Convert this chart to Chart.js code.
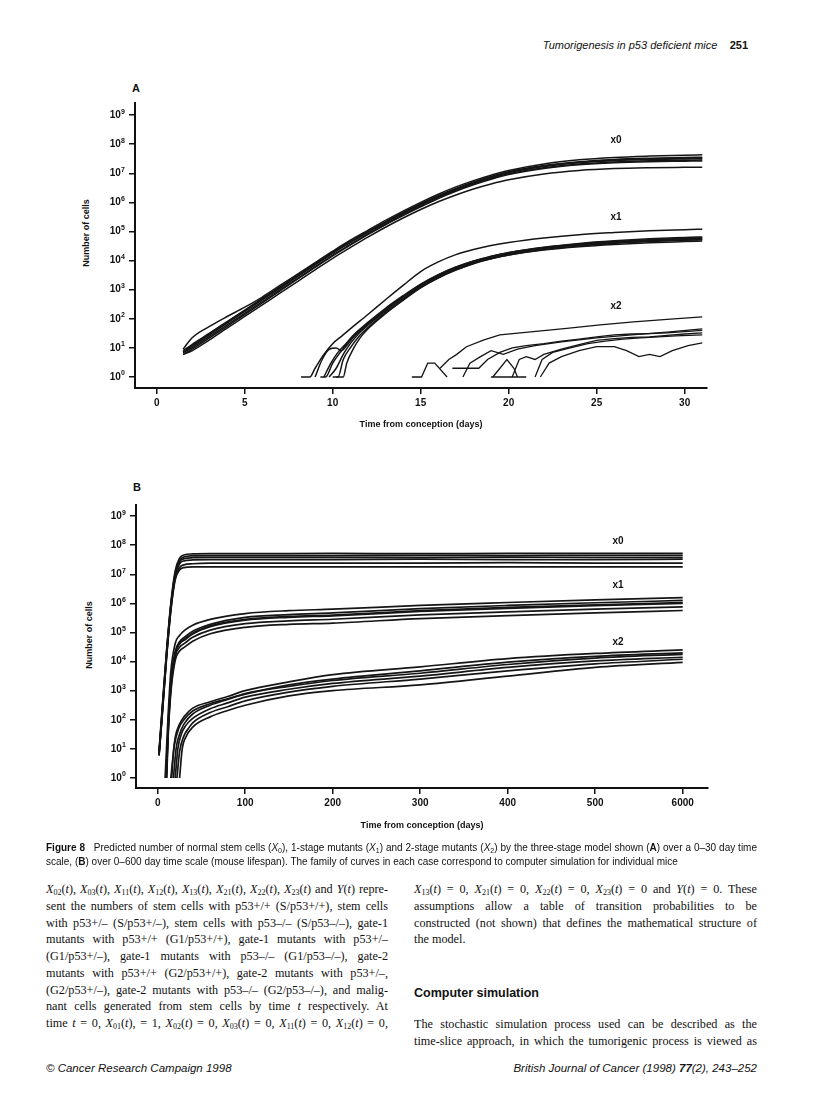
<!DOCTYPE html>
<html><head><meta charset="utf-8">
<script src="https://cdn.jsdelivr.net/npm/chart.js@4.4.1/dist/chart.umd.min.js"></script>
<style>
html,body{margin:0;padding:0;background:#fff;}
body{width:816px;height:1120px;position:relative;overflow:hidden;font-family:"Liberation Sans",Arial,sans-serif;color:#111;}
.abs{position:absolute;white-space:nowrap;}
canvas{position:absolute;left:0;}
.ytitle{position:absolute;font-weight:bold;font-size:9px;white-space:nowrap;transform:translate(-50%,-50%) rotate(-90deg);}
.panel{position:absolute;font-weight:bold;font-size:11px;transform:translate(-50%,-50%);}
.body{position:absolute;font-family:"Liberation Serif","Times New Roman",serif;font-size:12.2px;line-height:16px;height:16px;white-space:nowrap;text-align:justify;text-align-last:justify;}
.body.last{text-align:left;text-align-last:left;}
.body sub{font-size:8px;line-height:0;vertical-align:-2px;}
.cap{position:absolute;left:46px;width:711px;font-size:10px;line-height:12px;height:12px;white-space:nowrap;}
.cap sub{font-size:7px;line-height:0;vertical-align:-2px;}
</style>
</head><body>

<div class="abs" style="right:68px;top:38px;font-size:11px;line-height:14px;"><i>Tumorigenesis in p53 deficient mice</i>&nbsp;&nbsp;&nbsp;&nbsp;<b>251</b></div>

<div class="panel" style="left:136px;top:88px;">A</div>
<div class="ytitle" style="left:86px;top:233px;">Number of cells</div>
<canvas id="chartA" width="816" height="390" style="top:60px;"></canvas>

<div class="panel" style="left:137px;top:487px;">B</div>
<div class="ytitle" style="left:89px;top:635px;">Number of cells</div>
<canvas id="chartB" width="816" height="380" style="top:470px;"></canvas>

<div class="cap" style="top:842px;text-align:justify;text-align-last:justify;"><b>Figure 8</b>&nbsp;&nbsp; Predicted number of normal stem cells (<i>X</i><sub>0</sub>), 1-stage mutants (<i>X</i><sub>1</sub>) and 2-stage mutants (<i>X</i><sub>2</sub>) by the three-stage model shown (<b>A</b>) over a 0–30 day time</div>
<div class="cap" style="top:856px;">scale, (<b>B</b>) over 0–600 day time scale (mouse lifespan). The family of curves in each case correspond to computer simulation for individual mice</div>

<div class="body" style="left:46px;width:342px;top:881px;"><i>X</i><sub>02</sub>(<i>t</i>), <i>X</i><sub>03</sub>(<i>t</i>), <i>X</i><sub>11</sub>(<i>t</i>), <i>X</i><sub>12</sub>(<i>t</i>), <i>X</i><sub>13</sub>(<i>t</i>), <i>X</i><sub>21</sub>(<i>t</i>), <i>X</i><sub>22</sub>(<i>t</i>), <i>X</i><sub>23</sub>(<i>t</i>) and <i>Y</i>(<i>t</i>) repre-</div>
<div class="body" style="left:46px;width:342px;top:897.75px;">sent the numbers of stem cells with p53+/+ (S/p53+/+), stem cells</div>
<div class="body" style="left:46px;width:342px;top:914.5px;">with p53+/– (S/p53+/–), stem cells with p53–/– (S/p53–/–), gate-1</div>
<div class="body" style="left:46px;width:342px;top:931.25px;">mutants with p53+/+ (G1/p53+/+), gate-1 mutants with p53+/–</div>
<div class="body" style="left:46px;width:342px;top:948px;">(G1/p53+/–), gate-1 mutants with p53–/– (G1/p53–/–), gate-2</div>
<div class="body" style="left:46px;width:342px;top:964.75px;">mutants with p53+/+ (G2/p53+/+), gate-2 mutants with p53+/–,</div>
<div class="body" style="left:46px;width:342px;top:981.5px;">(G2/p53+/–), gate-2 mutants with p53–/– (G2/p53–/–), and malig-</div>
<div class="body" style="left:46px;width:342px;top:998.25px;">nant cells generated from stem cells by time <i>t</i> respectively. At</div>
<div class="body" style="left:46px;width:342px;top:1015px;">time <i>t</i> = 0, <i>X</i><sub>01</sub>(<i>t</i>), = 1, <i>X</i><sub>02</sub>(<i>t</i>) = 0, <i>X</i><sub>03</sub>(<i>t</i>) = 0, <i>X</i><sub>11</sub>(<i>t</i>) = 0, <i>X</i><sub>12</sub>(<i>t</i>) = 0,</div>

<div class="body" style="left:414px;width:343px;top:881px;"><i>X</i><sub>13</sub>(<i>t</i>) = 0, <i>X</i><sub>21</sub>(<i>t</i>) = 0, <i>X</i><sub>22</sub>(<i>t</i>) = 0, <i>X</i><sub>23</sub>(<i>t</i>) = 0 and <i>Y</i>(<i>t</i>) = 0. These</div>
<div class="body" style="left:414px;width:343px;top:897.75px;">assumptions allow a table of transition probabilities to be</div>
<div class="body" style="left:414px;width:343px;top:914.5px;">constructed (not shown) that defines the mathematical structure of</div>
<div class="body last" style="left:414px;width:343px;top:931.25px;">the model.</div>
<div class="abs" style="left:414px;top:985px;font-weight:bold;font-size:12.5px;line-height:16px;">Computer simulation</div>
<div class="body" style="left:414px;width:343px;top:1016px;">The stochastic simulation process used can be described as the</div>
<div class="body" style="left:414px;width:343px;top:1033px;">time-slice approach, in which the tumorigenic process is viewed as</div>

<div class="abs" style="left:46px;top:1061px;font-size:11.5px;line-height:15px;"><i>© Cancer Research Campaign 1998</i></div>
<div class="abs" style="right:59px;top:1061px;font-size:11.5px;line-height:15px;"><i>British Journal of Cancer (1998) <b>77</b>(2), 243–252</i></div>

<script>
// ---------- shared axis ticks ----------
const yTickValues = [1, 10, 100, 1e3, 1e4, 1e5, 1e6, 1e7, 1e8, 1e9];
const yTickBase = '10';
const yTickExponents = ['0','1','2','3','4','5','6','7','8','9'];
const aTickValues = [0, 5, 10, 15, 20, 25, 30];
const aTickLabels = ['0','5','10','15','20','25','30'];
const bTickValues = [0, 100, 200, 300, 400, 500, 600];
const bTickLabels = ['0','100','200','300','400','500','6000'];

// ---------- Panel A: x0 (normal stem cells), 0-31 days ----------
const aX0Days = [1.5, 2, 3, 4, 5, 6, 7, 8, 9, 10, 11, 12, 13, 14, 15, 16, 17, 18, 19, 20, 22, 24, 26, 28, 30, 31];
const aX0Run1 = [9, 22, 55, 120, 250, 560, 1400, 3400, 8500, 21000, 50000, 110000, 240000, 500000, 1.0e6, 1.9e6, 3.4e6, 5.6e6, 8.6e6, 1.25e7, 2.1e7, 2.9e7, 3.5e7, 3.9e7, 4.2e7, 4.3e7];
const aX0Run2 = [7, 11, 28, 71, 178, 447, 1120, 2800, 7100, 17800, 41700, 93000, 200000, 417000, 832000, 1.59e6, 2.82e6, 4.7e6, 7.2e6, 1.05e7, 1.7e7, 2.3e7, 2.7e7, 2.95e7, 3.1e7, 3.15e7];
const aX0Run3 = [6, 9, 22, 55, 140, 350, 900, 2300, 5800, 14500, 34000, 78000, 170000, 350000, 700000, 1.35e6, 2.4e6, 4.0e6, 6.2e6, 9.0e6, 1.45e7, 1.95e7, 2.3e7, 2.5e7, 2.6e7, 2.65e7];
const aX0Run4 = [8, 13, 32, 80, 200, 500, 1250, 3100, 7800, 19500, 45000, 100000, 215000, 450000, 900000, 1.7e6, 3.0e6, 5.0e6, 7.8e6, 1.13e7, 1.85e7, 2.5e7, 3.0e7, 3.3e7, 3.5e7, 3.55e7];
const aX0Run5 = [6, 8, 19, 48, 120, 300, 760, 1900, 4800, 12000, 28000, 64000, 140000, 290000, 570000, 1.05e6, 1.8e6, 2.9e6, 4.3e6, 6.0e6, 9.5e6, 1.25e7, 1.45e7, 1.55e7, 1.6e7, 1.62e7];
const aX0Run6 = [7, 12, 30, 75, 190, 470, 1180, 2950, 7400, 18500, 43000, 96000, 205000, 430000, 860000, 1.63e6, 2.9e6, 4.8e6, 7.4e6, 1.08e7, 1.78e7, 2.4e7, 2.85e7, 3.15e7, 3.3e7, 3.35e7];
const aX0Run7 = [7, 10, 25, 62, 155, 390, 980, 2450, 6200, 15500, 36000, 83000, 180000, 375000, 750000, 1.45e6, 2.6e6, 4.3e6, 6.6e6, 9.6e6, 1.55e7, 2.1e7, 2.45e7, 2.7e7, 2.8e7, 2.85e7];

// ---------- Panel A: x1 (1-stage mutants) [day, cells] ----------
const aX1Run1 = [[8.2,1],[8.7,1],[9,2],[9.5,6],[10,14],[10.5,25],[11,45],[12,140],[13,450],[14,1400],[15,4200],[16,9000],[17,16000],[18,24000],[19,33000],[20,42000],[22,60000],[24,78000],[26,92000],[28,105000],[30,115000],[31,120000]];
const aX1Run2 = [[9.3,1],[9.6,1],[10,3],[10.5,8],[11,20],[11.5,40],[12,70],[13,200],[14,550],[15,1400],[16,3000],[17,5500],[18,9000],[19,13000],[20,17500],[22,26000],[24,34000],[26,41000],[28,47000],[30,52000],[31,54000]];
const aX1Run3 = [[9.8,1],[10.2,2],[10.6,6],[11,14],[11.5,32],[12,60],[13,180],[14,500],[15,1300],[16,2800],[17,5200],[18,8500],[19,12500],[20,17000],[22,26000],[24,35000],[26,43000],[28,50000],[30,56000],[31,58000]];
const aX1Run4 = [[10,1],[10.3,1],[10.6,4],[11,10],[11.5,25],[12,50],[13,160],[14,450],[15,1200],[16,2600],[17,4800],[18,8000],[19,11500],[20,15500],[22,23000],[24,30000],[26,36000],[28,41000],[30,45000],[31,47000]];
const aX1Run5 = [[9.5,1],[9.9,3],[10.3,7],[10.8,15],[11.2,28],[12,75],[13,230],[14,620],[15,1550],[16,3300],[17,6000],[18,9800],[19,14000],[20,19000],[22,29000],[24,39000],[26,48000],[28,56000],[30,62000],[31,65000]];
const aX1Run6 = [[10.2,1],[10.6,1],[10.8,3],[11.2,10],[11.6,24],[12,45],[13,150],[14,430],[15,1150],[16,2500],[17,4700],[18,7800],[19,11500],[20,15500],[22,24000],[24,32000],[26,39000],[28,45000],[30,50000],[31,52000]];
const aX1Run7 = [[9,1],[9.4,4],[9.8,9],[10.2,10],[10.5,8],[10.8,12],[11.2,24],[12,65],[13,210],[14,580],[15,1500],[16,3200],[17,5900],[18,9500],[19,13800],[20,18500],[22,28000],[24,37000],[26,45000],[28,52000],[30,58000],[31,60000]];

// ---------- Panel A: x2 (2-stage mutants) [day, cells] ----------
const aX2Run1 = [[14.5,1],[15.05,1],[15.4,3],[15.8,3],[16.5,1]];
const aX2Run2 = [[16.1,2],[16.6,4],[17.05,6],[17.6,11],[18.6,19],[19.5,28],[21.4,36],[23.3,47],[25.2,62],[27.1,79],[29,95],[31,117]];
const aX2Run3 = [[21.8,1],[22.3,3],[23,5],[24,8],[25,11],[26,11],[26.7,8],[27.4,5],[28,6],[28.6,5],[29.3,8],[30.2,12],[31,15]];
const aX2Run4 = [[17.4,1],[17.8,3],[18.4,5],[19,8],[19.7,6],[20.5,9],[21.5,12],[23,16],[25,22],[27,28],[29,35],[31,45]];
const aX2Run5 = [[19,1],[21,1]];
const aX2Run6 = [[19.1,1],[19.9,4],[20.3,2],[20.5,1]];
const aX2Run7 = [[20.2,1],[20.6,4],[21,5],[21.5,4],[22,6],[23,9],[24,13],[25,18],[26,21],[27,23],[28,24],[29,27],[30,30],[31,33]];
const aX2Run8 = [[21.5,1],[21.9,4],[22.5,7],[23.5,10],[24.5,14],[25.5,17],[26.5,20],[27.5,22],[28.5,24],[29.5,26],[31,28]];
const aX2Run9 = [[16.8,2],[18.3,2],[18.8,4],[19.5,7],[20.2,10],[21,12],[22,14],[23,17],[24,20],[25,24],[26,28],[27,30],[28,31],[29,33],[30,36],[31,40]];

// ---------- Panel B: x0, 0-600 days ----------
const bX0Days = [1.5, 5, 10, 15, 20, 25, 30, 40, 60, 100, 200, 300, 400, 500, 600];
const bX0Run1 = [8, 230, 21000, 1.0e6, 1.3e7, 3.6e7, 4.6e7, 5.0e7, 5.1e7, 5.1e7, 5.2e7, 5.1e7, 5.2e7, 5.2e7, 5.2e7];
const bX0Run2 = [7, 180, 18000, 8.3e5, 1.1e7, 3.0e7, 3.9e7, 4.3e7, 4.4e7, 4.4e7, 4.4e7, 4.5e7, 4.4e7, 4.5e7, 4.5e7];
const bX0Run3 = [7, 170, 17000, 8.0e5, 1.0e7, 2.7e7, 3.4e7, 3.7e7, 3.8e7, 3.8e7, 3.8e7, 3.8e7, 3.9e7, 3.8e7, 3.8e7];
const bX0Run4 = [6, 150, 15000, 7.0e5, 9.0e6, 2.3e7, 2.9e7, 3.1e7, 3.2e7, 3.2e7, 3.2e7, 3.3e7, 3.2e7, 3.2e7, 3.3e7];
const bX0Run5 = [6, 130, 13000, 6.0e5, 7.5e6, 1.7e7, 2.1e7, 2.3e7, 2.4e7, 2.4e7, 2.4e7, 2.4e7, 2.5e7, 2.4e7, 2.4e7];
const bX0Run6 = [6, 120, 12000, 5.5e5, 6.5e6, 1.4e7, 1.7e7, 1.8e7, 1.8e7, 1.8e7, 1.8e7, 1.8e7, 1.8e7, 1.8e7, 1.8e7];

// ---------- Panel B: x1 [day, cells] ----------
const bX1Run1 = [[8.5,1],[12,160],[15,4500],[20,42000],[25,79000],[31,120000],[40,178000],[60,282000],[100,447000],[150,562000],[200,631000],[300,851000],[400,1.07e6],[500,1.32e6],[600,1.58e6]];
const bX1Run2 = [[9.3,1],[12,70],[15,1800],[20,22000],[25,48000],[31,70000],[40,110000],[60,190000],[100,330000],[150,410000],[200,470000],[300,660000],[400,850000],[500,1.05e6],[600,1.26e6]];
const bX1Run3 = [[9.8,1],[12,50],[15,1400],[20,18600],[25,40000],[31,56000],[40,89000],[60,158000],[100,263000],[150,331000],[200,372000],[300,525000],[400,676000],[500,832000],[600,1.0e6]];
const bX1Run4 = [[10,1],[12,40],[15,1100],[20,15000],[25,31000],[31,43000],[40,68000],[60,120000],[100,200000],[150,250000],[200,285000],[300,400000],[400,510000],[500,630000],[600,760000]];
const bX1Run5 = [[10.3,1],[12,30],[15,850],[20,11000],[25,23000],[31,32000],[40,50000],[60,90000],[100,150000],[150,190000],[200,210000],[300,300000],[400,380000],[500,470000],[600,570000]];
const bX1Run6 = [[9.6,1],[12,60],[15,1550],[20,20000],[25,43000],[31,60000],[40,95000],[60,168000],[100,282000],[150,355000],[200,398000],[300,562000],[400,724000],[500,891000],[600,1.07e6]];

// ---------- Panel B: x2 [day, cells] ----------
const bX2Run1 = [[16,1],[18,8],[20,25],[25,71],[30,126],[40,251],[60,417],[80,631],[100,1000],[150,2000],[200,3550],[300,6600],[400,12600],[500,19000],[600,25100]];
const bX2Run2 = [[18,1],[21,10],[25,32],[30,71],[40,158],[60,316],[80,501],[100,794],[150,1410],[200,2240],[300,3980],[400,7940],[500,13200],[600,17800]];
const bX2Run3 = [[20,1],[23,10],[27,32],[32,63],[40,112],[60,240],[80,380],[100,603],[150,1120],[200,1780],[300,3160],[400,6310],[500,10500],[600,14100]];
const bX2Run4 = [[22,1],[25,8],[30,28],[35,50],[40,79],[60,178],[80,282],[100,447],[150,891],[200,1410],[300,2510],[400,4790],[500,8320],[600,12000]];
const bX2Run5 = [[25,1],[28,10],[32,25],[40,56],[60,126],[80,209],[100,316],[150,661],[200,1000],[300,1580],[400,3160],[500,6310],[600,9330]];
const bX2Run6 = [[15,1],[19,13],[24,50],[30,100],[40,200],[60,355],[80,525],[100,759],[150,1580],[200,2510],[300,4790],[400,9550],[500,15100],[600,20000]];

// ---------- curve-family labels ----------
const curveLabelText = ['x0', 'x1', 'x2'];
const aLabelDays = [26.1, 26.1, 26.1];
const aLabelCells = [1.4e8, 3.2e5, 260];
const bLabelDays = [526, 526, 526];
const bLabelCells = [1.4e8, 4.3e6, 4.8e4];

// ---------- builders ----------
Chart.defaults.font.family = '"Liberation Sans", Arial, sans-serif';
Chart.defaults.color = '#111';

function shared(days, cells) { return days.map((d, i) => ({x: d, y: cells[i]})); }
function pairs(p) { return p.map(q => ({x: q[0], y: q[1]})); }
function ds(points, width, smooth) {
  return {data: points, showLine: true, borderColor: '#151515', borderWidth: width,
    pointRadius: 0, pointHoverRadius: 0, fill: false, tension: 0,
    cubicInterpolationMode: smooth ? 'monotone' : 'default'};
}

// curve family labels (x0, x1, x2) placed through the chart's scales
const curveLabels = {
  id: 'curveLabels',
  afterDatasetsDraw(chart, args, opts) {
    const {ctx} = chart; const xs = chart.scales.x, ys = chart.scales.y;
    ctx.save();
    ctx.font = 'bold 10px "Liberation Sans", Arial, sans-serif';
    ctx.fillStyle = '#111'; ctx.textAlign = 'center'; ctx.textBaseline = 'middle';
    opts.text.forEach((t, i) => ctx.fillText(t, xs.getPixelForValue(opts.days[i]), ys.getPixelForValue(opts.cells[i])));
    ctx.restore();
  }
};

// power-of-ten tick labels with a raised exponent, positioned by the y scale
const powerLabels = {
  id: 'powerLabels',
  afterDraw(chart) {
    const {ctx} = chart; const ys = chart.scales.y;
    const right = chart.chartArea.left - 6 - 4;
    ctx.save();
    ctx.fillStyle = '#111'; ctx.textAlign = 'right'; ctx.textBaseline = 'middle';
    ys.ticks.forEach((t, i) => {
      const py = ys.getPixelForValue(t.value);
      ctx.font = 'bold 7px "Liberation Sans", Arial, sans-serif';
      const e = yTickExponents[i];
      const ew = ctx.measureText(e).width;
      ctx.fillText(e, right, py - 3.5);
      ctx.font = 'bold 10px "Liberation Sans", Arial, sans-serif';
      ctx.fillText(yTickBase, right - ew - 0.3, py);
    });
    ctx.restore();
  }
};

function options(c) {
  const grid = {drawOnChartArea: false, drawTicks: true, tickLength: 6, lineWidth: 1.5, color: '#111'};
  const border = {display: true, color: '#111', width: 2};
  return {
    responsive: false, animation: false, devicePixelRatio: 1,
    layout: {padding: c.padding},
    events: [],
    plugins: {legend: {display: false}, tooltip: {enabled: false},
      curveLabels: {text: curveLabelText, days: c.labelDays, cells: c.labelCells}},
    scales: {
      x: {type: 'linear', min: c.xMin, max: c.xMax, bounds: 'data',
        afterBuildTicks: s => { s.ticks = c.xTicks.map(v => ({value: v})); },
        afterFit: s => { s.height = c.xHeight; },
        ticks: {autoSkip: false, maxRotation: 0, padding: 3, font: {size: 10, weight: 'bold'}, color: '#111',
          callback: (v, i) => c.xLabels[i]},
        grid: grid, border: border,
        title: {display: true, text: 'Time from conception (days)', font: {size: 9, weight: 'bold'}, color: '#111', padding: 0}
      },
      y: {type: 'logarithmic', min: c.yMin, max: c.yMax, bounds: 'data',
        afterBuildTicks: s => { s.ticks = yTickValues.map(v => ({value: v})); },
        afterFit: s => { s.width = 59; },
        ticks: {display: false, autoSkip: false},
        grid: grid, border: border
      }
    }
  };
}

const aDatasets = [
  ...[aX0Run1, aX0Run2, aX0Run3, aX0Run4, aX0Run5, aX0Run6, aX0Run7].map(r => ds(shared(aX0Days, r), 1.5, true)),
  ...[aX1Run1, aX1Run2, aX1Run3, aX1Run4, aX1Run5, aX1Run6, aX1Run7].map(r => ds(pairs(r), 1.5, true)),
  ...[aX2Run1, aX2Run2, aX2Run3, aX2Run4, aX2Run5, aX2Run6, aX2Run7, aX2Run8, aX2Run9].map(r => ds(pairs(r), 1.3, false))
];
new Chart(document.getElementById('chartA'), {
  type: 'scatter', data: {datasets: aDatasets}, plugins: [curveLabels, powerLabels],
  options: options({padding: {left: 76, right: 109, top: 43, bottom: 20}, xHeight: 42,
    xMin: -1.233, xMax: 31.27, xTicks: aTickValues, xLabels: aTickLabels,
    yMin: 0.419, yMax: 2.6e9, labelDays: aLabelDays, labelCells: aLabelCells})
});

const bDatasets = [
  ...[bX0Run1, bX0Run2, bX0Run3, bX0Run4, bX0Run5, bX0Run6].map(r => ds(shared(bX0Days, r), 1.7, true)),
  ...[bX1Run1, bX1Run2, bX1Run3, bX1Run4, bX1Run5, bX1Run6].map(r => ds(pairs(r), 1.7, true)),
  ...[bX2Run1, bX2Run2, bX2Run3, bX2Run4, bX2Run5, bX2Run6].map(r => ds(pairs(r), 1.7, true))
];
new Chart(document.getElementById('chartB'), {
  type: 'scatter', data: {datasets: bDatasets}, plugins: [curveLabels, powerLabels],
  options: options({padding: {left: 77, right: 108, top: 35, bottom: 19}, xHeight: 43,
    xMin: -24.8, xMax: 628.9, xTicks: bTickValues, xLabels: bTickLabels,
    yMin: 0.453, yMax: 2.4e9, labelDays: bLabelDays, labelCells: bLabelCells})
});
</script>
</body></html>
